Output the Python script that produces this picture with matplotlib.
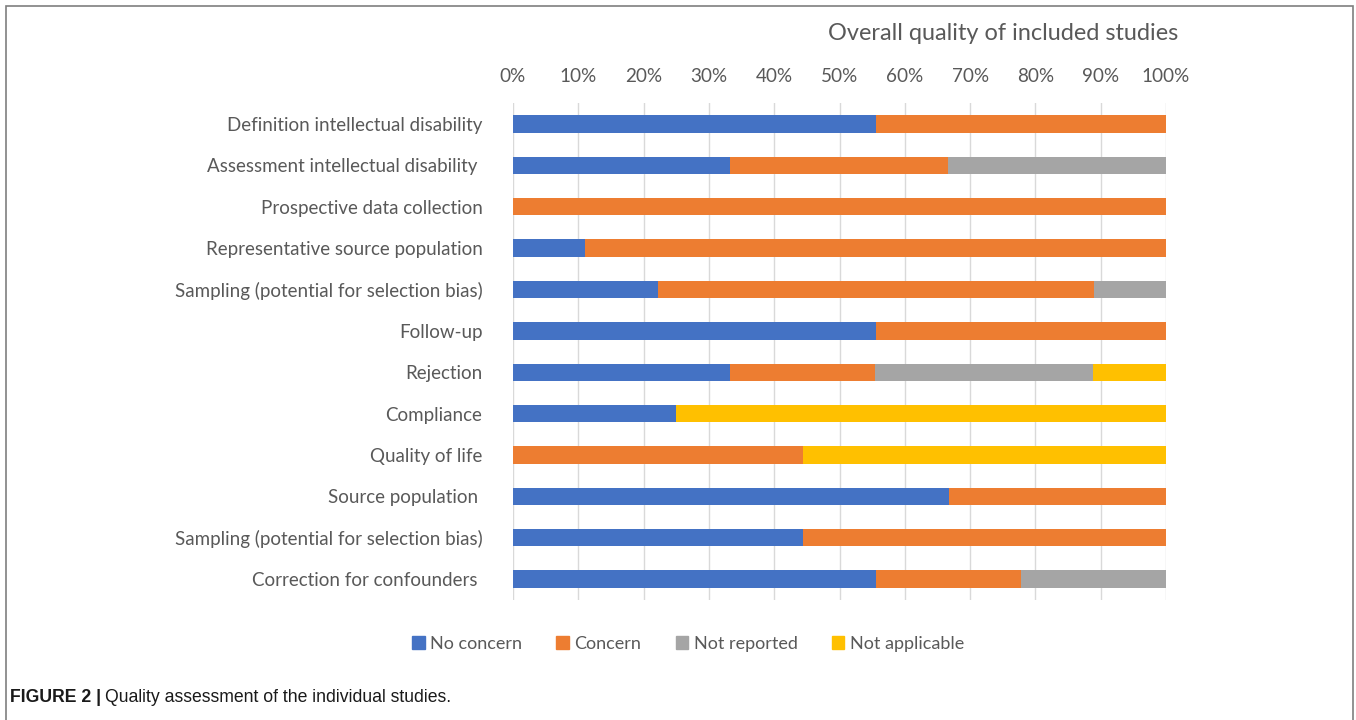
import matplotlib
matplotlib.use('Agg')
import matplotlib.pyplot as plt
from matplotlib.patches import Rectangle, Patch
import numpy as np

categories = [
    'Definition intellectual disability',
    'Assessment intellectual disability ',
    'Prospective data collection',
    'Representative source population',
    'Sampling (potential for selection bias)',
    'Follow-up',
    'Rejection',
    'Compliance',
    'Quality of life',
    'Source population ',
    'Sampling (potential for selection bias)',
    'Correction for confounders ',
]
no_concern    = [55.6, 33.3, 0.0, 11.1, 22.2, 55.6, 33.3, 25.0, 0.0, 66.7, 44.4, 55.6]
concern       = [44.4, 33.3, 100.0, 88.9, 66.7, 44.4, 22.2, 0.0, 44.4, 33.3, 55.6, 22.2]
not_reported  = [0.0, 33.4, 0.0, 0.0, 11.1, 0.0, 33.3, 0.0, 0.0, 0.0, 0.0, 22.2]
not_applicable = [0.0, 0.0, 0.0, 0.0, 0.0, 0.0, 11.2, 75.0, 55.6, 0.0, 0.0, 0.0]

series = [no_concern, concern, not_reported, not_applicable]
series_names = ['No concern', 'Concern', 'Not reported', 'Not applicable']
colors = ['#4472C4', '#ED7D31', '#A5A5A5', '#FFC000']
ticks = [0, 10, 20, 30, 40, 50, 60, 70, 80, 90, 100]

txt = '#595959'
font = 'Lato'

fig = plt.figure(figsize=(13.56, 7.2), dpi=100)
ax = fig.add_axes([513/1356, 1-599.7/720, 653/1356, 496.3/720])

y = np.arange(len(categories))
left = np.zeros(len(categories))
for vals, c, name in zip(series, colors, series_names):
    ax.barh(y, vals, left=left, height=0.42, color=c, label=name, zorder=3)
    left = left + np.array(vals)

ax.set_xlim(0, 100)
ax.set_ylim(len(categories)-0.5, -0.5)
ax.set_xticks(ticks)
ax.set_xticklabels([f'{t}%' for t in ticks], fontsize=13.6, color=txt, family=font)
ax.xaxis.tick_top()
ax.tick_params(axis='x', length=0, pad=13)
ax.set_yticks(y)
ax.set_yticklabels(categories, fontsize=13.5, color=txt, family=font)
ax.tick_params(axis='y', length=0, pad=22)
ax.grid(axis='x', color='#D9D9D9', lw=1, zorder=0)
for s in ax.spines.values():
    s.set_visible(False)

fig.text(1178/1356, 1-33/720, 'Overall quality of included studies', ha='right', va='center',
         fontsize=16.9, color=txt, family=font)

handles = [Patch(color=c, label=n) for c, n in zip(colors, series_names)]
fig.legend(handles=handles, loc='center', bbox_to_anchor=(688/1356, 1-644/720), ncol=4,
           frameon=False, handlelength=0.7, handleheight=0.7, handletextpad=0.3,
           columnspacing=1.9, prop={'family': font, 'size': 13.0}, labelcolor=txt)

# frame around chart
fig.patches.append(Rectangle((6/1356, -0.1), 1347/1356, 1.1-6/720, transform=fig.transFigure,
                             fill=False, edgecolor='#7F7F7F', lw=1.2))

t1 = fig.text(10/1356, 1-697/720, 'FIGURE 2 |', fontsize=12.7, weight='bold',
              family='Liberation Sans', va='center', color='#1a1a1a')
r = fig.canvas.get_renderer()
bb = t1.get_window_extent(r)
fig.text((bb.x1+4)/1356, 1-697/720, 'Quality assessment of the individual studies.',
         fontsize=12.7, family='Liberation Sans', va='center', color='#1a1a1a')

fig.savefig('out.png', dpi=100)
